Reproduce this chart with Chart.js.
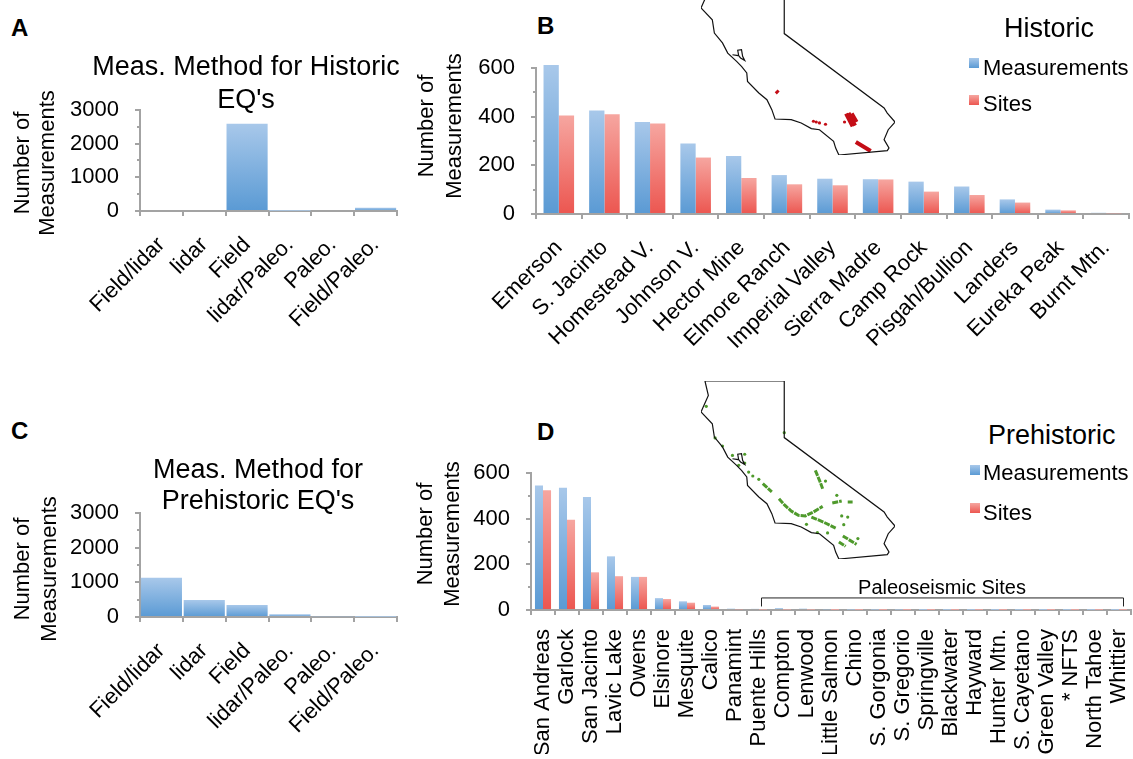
<!DOCTYPE html>
<html>
<head>
<meta charset="utf-8">
<title>Measurements</title>
<script src="https://cdnjs.cloudflare.com/ajax/libs/Chart.js/4.4.1/chart.umd.min.js"></script>
<style>
html, body { margin: 0; padding: 0; background: #fff; }
body { position: relative; width: 1133px; height: 759px; overflow: hidden; font-family: "Liberation Sans", Arial, sans-serif; color: #000; filter: blur(0.4px); }
canvas { position: absolute; display: block; }
.txt { position: absolute; white-space: nowrap; line-height: 1; }
.panel { font-size: 24px; font-weight: bold; }
.head { font-size: 27px; }
.key { font-size: 22px; }
.box { position: absolute; width: 10px; height: 10px; }
.blue { background: linear-gradient(#a8c8ea, #5a9ad4); }
.red { background: linear-gradient(#f6a6a0, #ec5650); }
</style>
</head>
<body>
<canvas id="chart_a" width="492" height="280" style="left:0;top:51px"></canvas>
<canvas id="chart_b" width="728" height="330" style="left:405px;top:40px"></canvas>
<canvas id="chart_c" width="516" height="282" style="left:0;top:455px"></canvas>
<canvas id="chart_d" width="728" height="304" style="left:405px;top:450px"></canvas>
<canvas id="map_b" width="194" height="178" style="left:701px;top:-23px"></canvas>
<canvas id="map_d" width="194" height="178" style="left:701px;top:381px"></canvas>

<div class="txt panel" style="left:11px;top:16px">A</div>
<div class="txt panel" style="left:537px;top:14px">B</div>
<div class="txt panel" style="left:11px;top:419px">C</div>
<div class="txt panel" style="left:537px;top:420px">D</div>

<div class="txt head" style="left:1004px;top:15px">Historic</div>
<div class="box blue" style="left:969px;top:58px"></div>
<div class="txt key" style="left:983px;top:57px">Measurements</div>
<div class="box red" style="left:969px;top:95px"></div>
<div class="txt key" style="left:983px;top:93px">Sites</div>

<div class="txt head" style="left:988px;top:422px">Prehistoric</div>
<div class="box blue" style="left:970px;top:465px"></div>
<div class="txt key" style="left:983px;top:462px">Measurements</div>
<div class="box red" style="left:970px;top:503px"></div>
<div class="txt key" style="left:983px;top:502px">Sites</div>

<script>
const methods = ["Field/lidar", "lidar", "Field", "lidar/Paleo.", "Paleo.", "Field/Paleo."];
const historicMethod = [0, 0, 2590, 5, 0, 100];
const prehistoricMethod = [1130, 490, 350, 80, 20, 10];

const historicFaults = ["Emerson", "S. Jacinto", "Homestead V.", "Johnson V.", "Hector Mine", "Elmore Ranch",
    "Imperial Valley", "Sierra Madre", "Camp Rock", "Pisgah/Bullion", "Landers", "Eureka Peak", "Burnt Mtn."];
const historicMeasurements = [612, 425, 378, 290, 238, 160, 145, 143, 133, 113, 60, 18, 5];
const historicSites = [405, 410, 372, 232, 148, 122, 118, 142, 92, 78, 47, 15, 3];

const prehistoricFaults = ["San Andreas", "Garlock", "San Jacinto", "Lavic Lake", "Owens", "Elsinore", "Mesquite",
    "Calico", "Panamint", "Puente Hills", "Compton", "Lenwood", "Little Salmon", "Chino", "S. Gorgonia", "S. Gregorio",
    "Springville", "Blackwater", "Hayward", "Hunter Mtn.", "S. Cayetano", "Green Valley", "* NFTS", "North Tahoe", "Whittier"];
const prehistoricMeasurements = [545, 535, 495, 235, 145, 52, 38, 22, 6, 5, 8, 6, 3, 2, 2, 2, 1, 1, 1, 1, 1, 1, 1, 1, 1];
const prehistoricSites = [525, 395, 165, 148, 145, 48, 32, 15, 3, 2, 2, 2, 1, 1, 1, 1, 1, 1, 1, 1, 1, 1, 1, 1, 1];

// map of California, lon/lat
const stateLon = [-124.19, -119.98, -119.98, -114.68, -114.51, -114.1, -114.46, -114.68, -114.42, -114.51, -117.08, -117.25,
    -117.36, -118.11, -118.54, -119.08, -119.61, -120.47, -120.64, -120.9, -121.33, -121.93, -121.97, -122.25, -122.51,
    -122.98, -123.26, -123.69, -123.8, -124.4, -124.01, -124.19];
const stateLat = [42, 42, 38.98, 35.01, 34.74, 34.26, 33.85, 33.32, 32.87, 32.73, 32.5, 32.87,
    33.23, 33.85, 33.91, 34.21, 34.39, 34.42, 34.92, 35.45, 35.81, 36.43, 36.88, 37.23, 37.5,
    37.94, 38.48, 39.01, 39.72, 40.35, 41.23, 42];
const bayLon = [-122.73, -122.4, -122.45, -122.25, -122.19, -122.08, -122.3, -122.4];
const bayLat = [37.85, 37.8, 38.09, 38.12, 37.77, 37.55, 37.68, 37.8];

const historicTraceLon = [-120.41, -120.3, null, -116.7, -116.35, null, -116.57, -116.22, null, -116.4, -116.14, null, -116.18, -115.39];
const historicTraceLat = [35.92, 35.81, null, 34.71, 34.03, null, 34.74, 34.07, null, 34.71, 34.26, null, 33.19, 32.71];
const historicDotLon = [-118.43, -118.28, -118.11, -117.79, -116.78];
const historicDotLat = [34.3, 34.26, 34.21, 34.14, 34.26];

const prehistoricTraceLon = [-120.26, -119.94, -119.61, -119.23, -118.86, -118.43, -117.94, null, -118.54, -117.9, -117.25, null,
    -118.33, -118.11, -117.94, null, -121.12, -120.64, null, -117.08, -116.72, null, -116.87, -116.14, null,
    -117.43, -116.93, null, -116.61, -116.35];
const prehistoricTraceLat = [35.72, 35.36, 35.06, 34.83, 34.8, 35.01, 35.31, null, 34.74, 34.47, 34.15, null,
    37.23, 36.7, 36.25, null, 36.52, 36.08, null, 33.41, 33.18, null, 33.73, 33.28, null,
    35.49, 35.6, null, 35.54, 35.54];
const prehistoricDotLon = [-124.12, -123.65, -123.26, -122.73, -122.08, -122.08, -122.4, -121.87, -121.65, -121.33, -118.8,
    -119.98, -117.19, -116.93, -116.61, -116.82, -118.22, -117.68, -116.07, -117.79];
const prehistoricDotLat = [40.65, 38.96, 38.53, 38.03, 38.09, 37.62, 37.5, 37.14, 36.93, 36.75, 34.35,
    39.24, 35.9, 34.8, 34.74, 34.33, 33.91, 33.89, 33.59, 36.66];

Chart.defaults.font.family = '"Liberation Sans", Arial, sans-serif';
Chart.defaults.font.size = 22;
Chart.defaults.color = "#000";
Chart.defaults.animation = false;

const AXIS_GREY = "#a3a3a3";

// each bar fades from light at its top to dark at the axis
function fade(light, dark) {
    return function(ctx) {
        const y = ctx.chart.scales.y;
        if (!y || ctx.raw === undefined) return dark;
        const top = y.getPixelForValue(ctx.raw), base = y.getPixelForValue(0);
        if (!isFinite(top) || !isFinite(base)) return dark; // scale not laid out yet
        const g = ctx.chart.ctx.createLinearGradient(0, top, 0, base);
        g.addColorStop(0, light);
        g.addColorStop(1, dark);
        return g;
    };
}
const blueFade = fade("#a8c8ea", "#5a9ad4");
const redFade = fade("#f6a6a0", "#ec5650");

function barScales(opt) {
    return {
        x: {
            afterFit: function(s) {
                s.height = opt.xHeight;
                s.paddingLeft = 0;
                s.paddingRight = 0;
            },
            border: { color: AXIS_GREY, width: 2 },
            grid: { drawOnChartArea: false, color: AXIS_GREY, lineWidth: 2, tickLength: 5 },
            ticks: { autoSkip: false, minRotation: opt.rotation, maxRotation: opt.rotation, padding: opt.xPad, color: "#000" }
        },
        y: {
            min: 0,
            max: opt.max,
            afterFit: function(s) {
                s.width = opt.yWidth;
                s.paddingTop = 0;
                s.paddingBottom = 0;
            },
            border: { color: AXIS_GREY, width: 2 },
            grid: {
                drawOnChartArea: false,
                color: AXIS_GREY,
                lineWidth: 2,
                tickLength: 5,
                // in-between ticks are shorter
                tickBorderDash: function(ctx) { return ctx.tick.value % (opt.step * 2) === 0 ? [] : [0, 2, 3, 0]; }
            },
            ticks: {
                autoSkip: false,
                stepSize: opt.step,
                padding: 16,
                color: "#000",
                callback: function(v) { return v % (opt.step * 2) === 0 ? v : ""; }
            }
        }
    };
}

// the rotated two line axis caption sits off centre in every panel, so it is placed by hand
const sideCaption = {
    id: "sideCaption",
    afterDraw: function(chart, args, opts) {
        const c = chart.ctx;
        c.save();
        c.fillStyle = "#000";
        c.font = '22px "Liberation Sans", Arial, sans-serif';
        c.textAlign = "center";
        c.textBaseline = "middle";
        ["Number of", "Measurements"].forEach(function(line, i) {
            c.save();
            c.translate(opts.xs[i], opts.y);
            c.rotate(-Math.PI / 2);
            c.fillText(line, 0, 0);
            c.restore();
        });
        c.restore();
    }
};

// titles are centred on the whole canvas, not on what the right padding leaves
const wideTitle = {
    id: "wideTitle",
    beforeDraw: function(chart) {
        chart.titleBlock.left = 0;
        chart.titleBlock.right = chart.width;
    }
};

function methodChart(id, values, titleText, right, titleLine, titleGap, caption) {
    return new Chart(document.getElementById(id), {
        type: "bar",
        data: {
            labels: methods,
            datasets: [{
                label: "Measurements",
                data: values,
                backgroundColor: blueFade,
                barPercentage: 0.96,
                categoryPercentage: 1
            }]
        },
        options: {
            responsive: false,
            layout: { padding: { right: right } },
            plugins: {
                legend: { display: false },
                tooltip: { enabled: false },
                sideCaption: caption,
                title: {
                    display: true,
                    text: titleText,
                    color: "#000",
                    font: { size: 27, weight: "normal", lineHeight: titleLine },
                    padding: { top: 0, bottom: titleGap }
                }
            },
            scales: barScales({ max: 3000, step: 500, rotation: 45, xHeight: 120, xPad: 16, yWidth: 140 })
        },
        plugins: [sideCaption, wideTitle]
    });
}

function faultChart(id, labels, measured, sites, opt, extra) {
    return new Chart(document.getElementById(id), {
        type: "bar",
        data: {
            labels: labels,
            datasets: [
                { label: "Measurements", data: measured, backgroundColor: blueFade, barPercentage: 1, categoryPercentage: 0.67, clip: false },
                { label: "Sites", data: sites, backgroundColor: redFade, barPercentage: 1, categoryPercentage: 0.67, clip: false }
            ]
        },
        options: {
            responsive: false,
            layout: { padding: opt.padding },
            plugins: { legend: { display: false }, tooltip: { enabled: false }, sideCaption: opt.caption },
            scales: barScales(opt)
        },
        plugins: [sideCaption].concat(extra || [])
    });
}

// bracket over the paleoseismic sites in panel D
const paleoBracket = {
    id: "paleoBracket",
    afterDatasetsDraw: function(chart) {
        const x = chart.scales.x, y = chart.scales.y, c = chart.ctx;
        const x1 = x.getPixelForValue(prehistoricFaults.indexOf("Puente Hills")) + 2;
        const x2 = x.getPixelForValue(prehistoricFaults.indexOf("Whittier")) + 4;
        const top = y.getPixelForValue(55);
        c.save();
        c.strokeStyle = "#222";
        c.lineWidth = 1;
        c.beginPath();
        c.moveTo(x1 + 0.5, top + 9);
        c.lineTo(x1 + 0.5, top + 0.5);
        c.lineTo(x2 + 0.5, top + 0.5);
        c.lineTo(x2 + 0.5, top + 9);
        c.stroke();
        c.fillStyle = "#000";
        c.font = '20px "Liberation Sans", Arial, sans-serif';
        c.textAlign = "center";
        c.textBaseline = "middle";
        c.fillText("Paleoseismic Sites", (x1 + x2) / 2, top - 9);
        c.restore();
    }
};

function lonLat(lons, lats) {
    return lons.map(function(lon, i) {
        return { x: lon, y: lats[i] };
    });
}

function mapChart(id, traceLon, traceLat, dotLon, dotLat, color, traceWidth, dash) {
    return new Chart(document.getElementById(id), {
        type: "scatter",
        data: {
            datasets: [
                { data: lonLat(stateLon, stateLat), showLine: true, borderColor: "#111", borderWidth: 1.2, pointRadius: 0, clip: false },
                { data: lonLat(bayLon, bayLat), showLine: true, borderColor: "#111", borderWidth: 1.2, pointRadius: 0, clip: false },
                { data: lonLat(traceLon, traceLat), showLine: true, spanGaps: false, borderColor: color, borderWidth: traceWidth, borderDash: dash, pointRadius: 0, clip: false },
                { data: lonLat(dotLon, dotLat), showLine: false, backgroundColor: color, borderWidth: 0, pointRadius: 1.6, clip: false }
            ]
        },
        options: {
            responsive: false,
            layout: { autoPadding: false },
            plugins: { legend: { display: false }, tooltip: { enabled: false } },
            scales: {
                x: { type: "linear", min: -124.4, max: -114.1, display: false },
                y: { type: "linear", min: 32.5, max: 42, display: false }
            }
        }
    });
}

window.addEventListener("DOMContentLoaded", function() {
    methodChart("chart_a", historicMethod, ["Meas. Method for Historic", "EQ's"], 95, 1.22, -7, { xs: [23, 48], y: 112 });
    methodChart("chart_c", prehistoricMethod, ["Meas. Method for", "Prehistoric EQ's"], 119, 1.15, -4, { xs: [23, 50], y: 114 });

    faultChart("chart_b", historicFaults, historicMeasurements, historicSites, {
        max: 600, step: 100, rotation: 45, xHeight: 156, xPad: 16, yWidth: 131,
        padding: { top: 28, right: 4 },
        caption: { xs: [22, 50], y: 86 }
    });
    faultChart("chart_d", prehistoricFaults, prehistoricMeasurements, prehistoricSites, {
        max: 600, step: 100, rotation: 90, xHeight: 144, xPad: 14, yWidth: 126,
        padding: { top: 23, right: 2 },
        caption: { xs: [21, 48], y: 84 }
    }, [paleoBracket]);

    mapChart("map_b", historicTraceLon, historicTraceLat, historicDotLon, historicDotLat, "#c40d16", 4, []);
    mapChart("map_d", prehistoricTraceLon, prehistoricTraceLat, prehistoricDotLon, prehistoricDotLat, "#4f9a2c", 3, [6, 1]);
});
</script>
</body>
</html>
